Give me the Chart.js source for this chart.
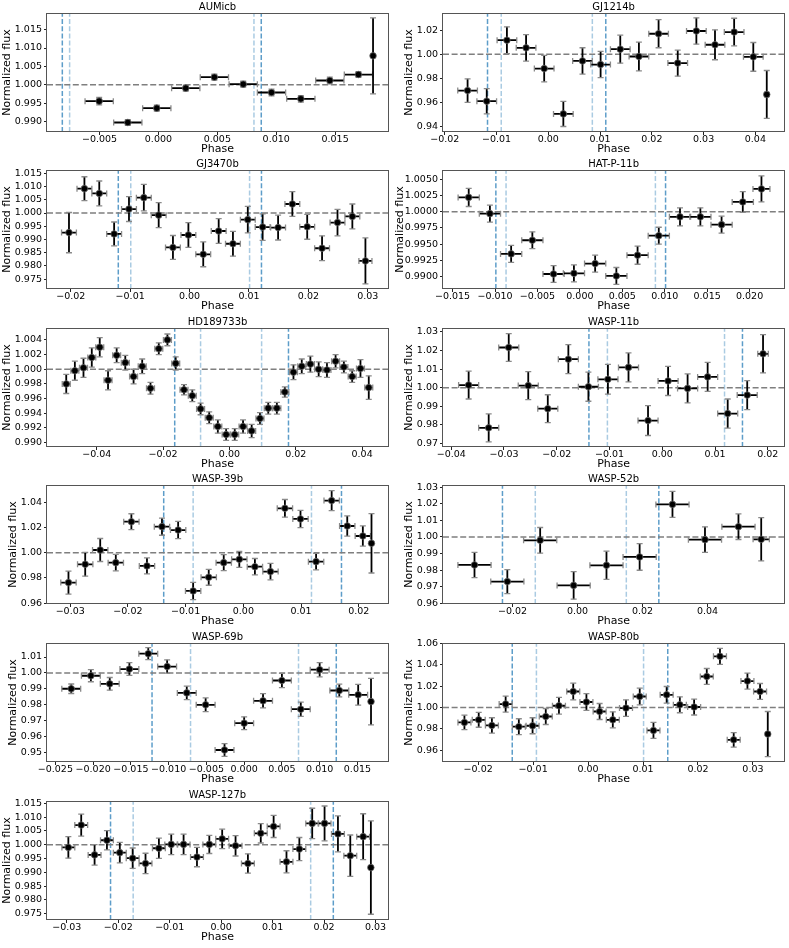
<!DOCTYPE html>
<html><head><meta charset="utf-8">
<script src="https://cdn.jsdelivr.net/npm/chart.js@4.4.0/dist/chart.umd.min.js"></script>
<style>
html,body{margin:0;padding:0;background:#fff;width:789px;height:948px;overflow:hidden;position:relative;}
canvas{position:absolute;}
</style></head><body>
<script>
// ---------------- DATA ----------------
const AUMicb_phase = [-0.00503,-0.00260,-0.00014,0.00232,0.00475,0.00720,0.00960,0.01209,0.01455,0.01698,0.01822];
const AUMicb_flux  = [0.99557,0.98978,0.99367,0.99910,1.00208,1.00018,0.99792,0.99620,1.00118,1.00280,1.00787];
const AUMicb_xerr  = [0.0012,0.0012,0.0012,0.0012,0.0012,0.0012,0.0012,0.0012,0.0012,0.0012,0];
const AUMicb_yerr  = [0.0010,0.0008,0.0008,0.0008,0.0008,0.0008,0.0009,0.0009,0.0009,0.0008,0.0103];
const AUMicb_contacts = [-0.00816,-0.00754,0.00811,0.00873];
const AUMicb_xrange = [-0.00946,0.01949];
const AUMicb_yrange = [0.9872,1.0195];
const AUMicb_xticks = ['−0.005','0.000','0.005','0.010','0.015'];
const AUMicb_yticks = ['0.990','0.995','1.000','1.005','1.010','1.015'];

const GJ1214b_phase = [-0.0156,-0.0119,-0.0080,-0.0043,-0.0008,0.0029,0.0066,0.0101,0.0139,0.0175,0.0213,0.0250,0.0286,0.0322,0.0359,0.0396,0.0422];
const GJ1214b_flux  = [0.9697,0.9608,1.0117,1.0053,0.9880,0.9502,0.9944,0.9914,1.0042,0.9981,1.0171,0.9926,1.0194,1.0079,1.0185,0.9978,0.9664];
const GJ1214b_xerr  = [0.0019,0.0019,0.0019,0.0019,0.0019,0.0019,0.0019,0.0019,0.0019,0.0019,0.0019,0.0019,0.0019,0.0019,0.0019,0.0019,0.0004];
const GJ1214b_yerr  = [0.0098,0.0105,0.0112,0.0110,0.0110,0.0105,0.0110,0.0110,0.0117,0.0120,0.0117,0.0109,0.0110,0.0125,0.0115,0.0120,0.0200];
const GJ1214b_contacts = [-0.01175,-0.0091,0.0085,0.0111];
const GJ1214b_xrange = [-0.02035,0.04557];
const GJ1214b_yrange = [0.9351,1.0344];
const GJ1214b_xticks = ['−0.02','−0.01','0.00','0.01','0.02','0.03','0.04'];
const GJ1214b_yticks = ['0.94','0.96','0.98','1.00','1.02'];

const GJ3470b_phase = [-0.0203,-0.0177,-0.0152,-0.0127,-0.0102,-0.0077,-0.0052,-0.0028,-0.0002,0.0023,0.0049,0.0073,0.0098,0.0123,0.0149,0.0173,0.0198,0.0223,0.0249,0.0274,0.0296];
const GJ3470b_flux  = [0.9926,1.0092,1.0074,0.9921,1.0015,1.0058,0.9992,0.9870,0.9917,0.9844,0.9932,0.9884,0.9975,0.9947,0.9945,1.0034,0.9948,0.9867,0.9964,0.9987,0.9819];
const GJ3470b_xerr  = [0.00125,0.00125,0.00125,0.00125,0.00125,0.00125,0.00125,0.00125,0.00125,0.00125,0.00125,0.00125,0.00125,0.00125,0.00125,0.00125,0.00125,0.00125,0.00125,0.00125,0.0011];
const GJ3470b_yerr  = [0.0076,0.0045,0.0047,0.0045,0.0047,0.0050,0.0047,0.0045,0.0047,0.0047,0.0047,0.0047,0.0050,0.0050,0.0047,0.0047,0.0047,0.0047,0.0050,0.0047,0.0087];
const GJ3470b_contacts = [-0.0120,-0.0099,0.0101,0.0121];
const GJ3470b_xrange = [-0.0240,0.0334];
const GJ3470b_yrange = [0.9713,1.01625];
const GJ3470b_xticks = ['−0.02','−0.01','0.00','0.01','0.02','0.03'];
const GJ3470b_yticks = ['0.975','0.980','0.985','0.990','0.995','1.000','1.005','1.010','1.015'];

const HATP11b_phase = [-0.0131,-0.0106,-0.0081,-0.0056,-0.0031,-0.0007,0.0018,0.0043,0.0068,0.0093,0.0118,0.0142,0.0167,0.0192,0.0214];
const HATP11b_flux  = [1.0022,0.9997,0.9935,0.9956,0.9904,0.9905,0.9920,0.9901,0.9933,0.9963,0.9992,0.9992,0.9980,1.0015,1.0035];
const HATP11b_xerr  = [0.00125,0.00125,0.00125,0.00125,0.00125,0.00125,0.00125,0.00125,0.00125,0.00125,0.00125,0.00125,0.00125,0.00125,0.0010];
const HATP11b_yerr  = [0.0014,0.0013,0.0013,0.0013,0.0013,0.0013,0.0013,0.0013,0.0014,0.0013,0.0014,0.0014,0.0013,0.0016,0.0020];
const HATP11b_contacts = [-0.0099,-0.0087,0.0089,0.0101];
const HATP11b_xrange = [-0.01613,0.02408];
const HATP11b_yrange = [0.98809,1.00642];
const HATP11b_xticks = ['−0.015','−0.010','−0.005','0.000','0.005','0.010','0.015','0.020'];
const HATP11b_yticks = ['0.9900','0.9925','0.9950','0.9975','1.0000','1.0025','1.0050'];

const HD189733b_phase = [-0.0492,-0.0466,-0.0440,-0.0415,-0.0391,-0.0366,-0.0340,-0.0314,-0.0289,-0.0263,-0.0238,-0.0213,-0.0187,-0.0162,-0.0137,-0.0112,-0.0087,-0.0061,-0.0035,-0.0010,0.0016,0.0041,0.0067,0.0092,0.0117,0.0143,0.0167,0.0193,0.0218,0.0244,0.0269,0.0294,0.0320,0.0345,0.0370,0.0395,0.0420];
const HD189733b_flux  = [0.9980,0.9998,1.0002,1.0016,1.0030,0.9985,1.0019,1.0009,0.9990,1.0004,0.9974,1.0028,1.0040,1.0008,0.9972,0.9964,0.9946,0.9934,0.9922,0.9911,0.9911,0.9922,0.9916,0.9933,0.9947,0.9947,0.9969,0.9996,1.0004,1.0007,1.0000,0.9999,1.0011,1.0003,0.9990,1.0001,0.9975];
const HD189733b_xerr  = [0.0012,0.0012,0.0012,0.0012,0.0012,0.0012,0.0012,0.0012,0.0012,0.0012,0.0012,0.0012,0.0012,0.0012,0.0012,0.0012,0.0012,0.0012,0.0012,0.0012,0.0012,0.0012,0.0012,0.0012,0.0012,0.0012,0.0012,0.0012,0.0012,0.0012,0.0012,0.0012,0.0012,0.0012,0.0012,0.0012,0.0012];
const HD189733b_yerr  = [0.0013,0.0013,0.0013,0.0013,0.0013,0.0013,0.0010,0.0010,0.0010,0.0010,0.0008,0.0008,0.0008,0.0009,0.0007,0.0008,0.0008,0.0008,0.0009,0.0008,0.0008,0.0009,0.0009,0.0008,0.0008,0.0008,0.0007,0.0010,0.0010,0.0011,0.0010,0.0010,0.0009,0.0008,0.0008,0.0012,0.0016];
const HD189733b_contacts = [-0.0165,-0.0087,0.0097,0.0178];
const HD189733b_xrange = [-0.0550,0.0478];
const HD189733b_yrange = [0.98941,1.00562];
const HD189733b_xticks = ['−0.04','−0.02','0.00','0.02','0.04'];
const HD189733b_yticks = ['0.990','0.992','0.994','0.996','0.998','1.000','1.002','1.004'];

const WASP11b_phase = [-0.0367,-0.0329,-0.0291,-0.0254,-0.0217,-0.0178,-0.0140,-0.0103,-0.0064,-0.0027,0.0011,0.0048,0.0086,0.0124,0.0161,0.0191];
const WASP11b_flux  = [1.0014,0.9784,1.0216,1.0011,0.9887,1.0153,1.0005,1.0045,1.0109,0.9823,1.0036,0.9996,1.0058,0.9861,0.9960,1.0182];
const WASP11b_xerr  = [0.0019,0.0019,0.0019,0.0019,0.0019,0.0019,0.0019,0.0019,0.0019,0.0019,0.0019,0.0019,0.0019,0.0019,0.0019,0.0010];
const WASP11b_yerr  = [0.0075,0.0075,0.0075,0.0075,0.0075,0.0078,0.0078,0.0080,0.0078,0.0080,0.0078,0.0078,0.0078,0.0078,0.0078,0.0103];
const WASP11b_contacts = [-0.0139,-0.0104,0.0118,0.0152];
const WASP11b_xrange = [-0.04156,0.02311];
const WASP11b_yrange = [0.96811,1.03207];
const WASP11b_xticks = ['−0.04','−0.03','−0.02','−0.01','0.00','0.01','0.02'];
const WASP11b_yticks = ['0.97','0.98','0.99','1.00','1.01','1.02','1.03'];

const WASP39b_phase = [-0.0303,-0.0274,-0.0248,-0.0221,-0.0194,-0.0167,-0.0141,-0.0113,-0.0087,-0.0060,-0.0034,-0.0007,0.0020,0.0047,0.0072,0.0099,0.0126,0.0153,0.0180,0.0207,0.0222];
const WASP39b_flux  = [0.9763,0.9908,1.0021,0.9921,1.0245,0.9895,1.0206,1.0179,0.9697,0.9805,0.9921,0.9947,0.9889,0.9850,1.0351,1.0267,0.9929,1.0412,1.0211,1.0132,1.0074];
const WASP39b_xerr  = [0.00133,0.00133,0.00133,0.00133,0.00133,0.00133,0.00133,0.00133,0.00133,0.00133,0.00133,0.00133,0.00133,0.00133,0.00133,0.00133,0.00133,0.00133,0.00133,0.00133,0];
const WASP39b_yerr  = [0.0091,0.0094,0.0091,0.0065,0.0063,0.0063,0.0068,0.0068,0.0068,0.0063,0.0063,0.0063,0.0065,0.0065,0.0070,0.0068,0.0065,0.0079,0.0080,0.0080,0.0235];
const WASP39b_contacts = [-0.0138,-0.0087,0.0118,0.0170];
const WASP39b_xrange = [-0.03402,0.02506];
const WASP39b_yrange = [0.95937,1.05356];
const WASP39b_xticks = ['−0.03','−0.02','−0.01','0.00','0.01','0.02'];
const WASP39b_yticks = ['0.96','0.98','1.00','1.02','1.04'];

const WASP52b_phase = [-0.0317,-0.0216,-0.0115,-0.0012,0.0089,0.0191,0.0292,0.0392,0.0495,0.0565];
const WASP52b_flux  = [0.9832,0.9732,0.9980,0.9709,0.9830,0.9880,1.0196,0.9984,1.0062,0.9986];
const WASP52b_xerr  = [0.0051,0.0051,0.0051,0.0051,0.0051,0.0051,0.0051,0.0051,0.0051,0.0025];
const WASP52b_yerr  = [0.0076,0.0072,0.0077,0.0083,0.0085,0.0080,0.0078,0.0077,0.0077,0.0130];
const WASP52b_contacts = [-0.0231,-0.0130,0.0150,0.0250];
const WASP52b_xrange = [-0.04139,0.06357];
const WASP52b_yrange = [0.95972,1.03126];
const WASP52b_xticks = ['−0.02','0.00','0.02','0.04'];
const WASP52b_yticks = ['0.96','0.97','0.98','0.99','1.00','1.01','1.02','1.03'];

const WASP69b_phase = [-0.0229,-0.0203,-0.0178,-0.0152,-0.0127,-0.0102,-0.0076,-0.0051,-0.0026,0.0000,0.0025,0.0050,0.0075,0.0100,0.0126,0.0151,0.0168];
const WASP69b_flux  = [0.9900,0.9982,0.9931,1.0024,1.0121,1.0040,0.9874,0.9799,0.9514,0.9683,0.9824,0.9952,0.9771,1.0020,0.9889,0.9862,0.9819];
const WASP69b_xerr  = [0.00125,0.00125,0.00125,0.00125,0.00125,0.00125,0.00125,0.00125,0.00125,0.00125,0.00125,0.00125,0.00125,0.00125,0.00125,0.00125,0];
const WASP69b_yerr  = [0.0030,0.0038,0.0040,0.0040,0.0038,0.0042,0.0042,0.0043,0.0040,0.0040,0.0045,0.0045,0.0045,0.0045,0.0040,0.0065,0.0147];
const WASP69b_contacts = [-0.0122,-0.0071,0.0072,0.0122];
const WASP69b_xrange = [-0.02611,0.01905];
const WASP69b_yrange = [0.94384,1.01883];
const WASP69b_xticks = ['−0.025','−0.020','−0.015','−0.010','−0.005','0.000','0.005','0.010','0.015'];
const WASP69b_yticks = ['0.95','0.96','0.97','0.98','0.99','1.00','1.01'];

const WASP80b_phase = [-0.0225,-0.0199,-0.0175,-0.0150,-0.0126,-0.0101,-0.0077,-0.0053,-0.0027,-0.0003,0.0021,0.0045,0.0069,0.0094,0.0119,0.0143,0.0167,0.0193,0.0216,0.0240,0.0265,0.0290,0.0313,0.0327];
const WASP80b_flux  = [0.9860,0.9885,0.9832,1.0033,0.9820,0.9829,0.9916,1.0017,1.0151,1.0052,0.9963,0.9885,0.9995,1.0104,0.9785,1.0120,1.0026,1.0005,1.0292,1.0481,0.9697,1.0249,1.0151,0.9751];
const WASP80b_xerr  = [0.00118,0.00118,0.00118,0.00118,0.00118,0.00118,0.00118,0.00118,0.00118,0.00118,0.00118,0.00118,0.00118,0.00118,0.00118,0.00118,0.00118,0.00118,0.00118,0.00118,0.00118,0.00118,0.00118,0];
const WASP80b_yerr  = [0.0068,0.0070,0.0072,0.0075,0.0075,0.0075,0.0075,0.0078,0.0078,0.0078,0.0075,0.0075,0.0078,0.0078,0.0075,0.0078,0.0075,0.0075,0.0075,0.0075,0.0068,0.0075,0.0075,0.0212];
const WASP80b_contacts = [-0.0138,-0.0094,0.0101,0.0145];
const WASP80b_xrange = [-0.0264,0.03569];
const WASP80b_yrange = [0.94885,1.06065];
const WASP80b_xticks = ['−0.02','−0.01','0.00','0.01','0.02','0.03'];
const WASP80b_yticks = ['0.96','0.98','1.00','1.02','1.04','1.06'];

const WASP127b_phase = [-0.0297,-0.0272,-0.0246,-0.0222,-0.0197,-0.0172,-0.0147,-0.0121,-0.0097,-0.0073,-0.0047,-0.0023,0.0002,0.0028,0.0052,0.0077,0.0102,0.0127,0.0152,0.0177,0.0201,0.0227,0.0251,0.0276,0.0291];
const WASP127b_flux  = [0.9990,1.0071,0.9963,1.0016,0.9971,0.9951,0.9932,0.9987,1.0001,1.0001,0.9955,1.0001,1.0021,0.9996,0.9932,1.0041,1.0066,0.9938,0.9984,1.0077,1.0077,1.0039,0.9960,1.0029,0.9917];
const WASP127b_xerr  = [0.00125,0.00125,0.00125,0.00125,0.00125,0.00125,0.00125,0.00125,0.00125,0.00125,0.00125,0.00125,0.00125,0.00125,0.00125,0.00125,0.00125,0.00125,0.00125,0.00125,0.00125,0.00125,0.00125,0.00125,0];
const WASP127b_yerr  = [0.0039,0.0040,0.0037,0.0035,0.0037,0.0037,0.0037,0.0037,0.0037,0.0037,0.0035,0.0033,0.0035,0.0037,0.0035,0.0035,0.0040,0.0040,0.0042,0.0055,0.0063,0.0065,0.0075,0.0083,0.0169];
const WASP127b_contacts = [-0.0215,-0.0171,0.0174,0.0218];
const WASP127b_xrange = [-0.03385,0.03243];
const WASP127b_yrange = [0.97271,1.01582];
const WASP127b_xticks = ['−0.03','−0.02','−0.01','0.00','0.01','0.02','0.03'];
const WASP127b_yticks = ['0.975','0.980','0.985','0.990','0.995','1.000','1.005','1.010','1.015'];

const panels = [
  {title:'AUMicb',   phase:AUMicb_phase,   flux:AUMicb_flux,   xerr:AUMicb_xerr,   yerr:AUMicb_yerr,   lines:AUMicb_contacts,   xr:AUMicb_xrange,   yr:AUMicb_yrange,   xt:AUMicb_xticks,   yt:AUMicb_yticks},
  {title:'GJ1214b',  phase:GJ1214b_phase,  flux:GJ1214b_flux,  xerr:GJ1214b_xerr,  yerr:GJ1214b_yerr,  lines:GJ1214b_contacts,  xr:GJ1214b_xrange,  yr:GJ1214b_yrange,  xt:GJ1214b_xticks,  yt:GJ1214b_yticks},
  {title:'GJ3470b',  phase:GJ3470b_phase,  flux:GJ3470b_flux,  xerr:GJ3470b_xerr,  yerr:GJ3470b_yerr,  lines:GJ3470b_contacts,  xr:GJ3470b_xrange,  yr:GJ3470b_yrange,  xt:GJ3470b_xticks,  yt:GJ3470b_yticks},
  {title:'HAT-P-11b',phase:HATP11b_phase,  flux:HATP11b_flux,  xerr:HATP11b_xerr,  yerr:HATP11b_yerr,  lines:HATP11b_contacts,  xr:HATP11b_xrange,  yr:HATP11b_yrange,  xt:HATP11b_xticks,  yt:HATP11b_yticks},
  {title:'HD189733b',phase:HD189733b_phase,flux:HD189733b_flux,xerr:HD189733b_xerr,yerr:HD189733b_yerr,lines:HD189733b_contacts,xr:HD189733b_xrange,yr:HD189733b_yrange,xt:HD189733b_xticks,yt:HD189733b_yticks},
  {title:'WASP-11b', phase:WASP11b_phase,  flux:WASP11b_flux,  xerr:WASP11b_xerr,  yerr:WASP11b_yerr,  lines:WASP11b_contacts,  xr:WASP11b_xrange,  yr:WASP11b_yrange,  xt:WASP11b_xticks,  yt:WASP11b_yticks},
  {title:'WASP-39b', phase:WASP39b_phase,  flux:WASP39b_flux,  xerr:WASP39b_xerr,  yerr:WASP39b_yerr,  lines:WASP39b_contacts,  xr:WASP39b_xrange,  yr:WASP39b_yrange,  xt:WASP39b_xticks,  yt:WASP39b_yticks},
  {title:'WASP-52b', phase:WASP52b_phase,  flux:WASP52b_flux,  xerr:WASP52b_xerr,  yerr:WASP52b_yerr,  lines:WASP52b_contacts,  xr:WASP52b_xrange,  yr:WASP52b_yrange,  xt:WASP52b_xticks,  yt:WASP52b_yticks},
  {title:'WASP-69b', phase:WASP69b_phase,  flux:WASP69b_flux,  xerr:WASP69b_xerr,  yerr:WASP69b_yerr,  lines:WASP69b_contacts,  xr:WASP69b_xrange,  yr:WASP69b_yrange,  xt:WASP69b_xticks,  yt:WASP69b_yticks},
  {title:'WASP-80b', phase:WASP80b_phase,  flux:WASP80b_flux,  xerr:WASP80b_xerr,  yerr:WASP80b_yerr,  lines:WASP80b_contacts,  xr:WASP80b_xrange,  yr:WASP80b_yrange,  xt:WASP80b_xticks,  yt:WASP80b_yticks},
  {title:'WASP-127b',phase:WASP127b_phase, flux:WASP127b_flux, xerr:WASP127b_xerr, yerr:WASP127b_yerr, lines:WASP127b_contacts, xr:WASP127b_xrange, yr:WASP127b_yrange, xt:WASP127b_xticks, yt:WASP127b_yticks}
];

// ---------------- LAYOUT / STYLE ----------------
const FONT = "'DejaVu Sans', sans-serif";
Chart.defaults.font.family = FONT;
Chart.defaults.color = '#000';
const ROW_TOP = [13,170,328,485,643,801];
const PLOT_H = 119, TOP_SPACE = 13, CANVAS_H = 158;
const COL_X = [0,394], COL_W = [394,395], PLOT_L = [47,443], PLOT_R = [388,786];
const TICK_FONT = {family:FONT, size:9.5, lineHeight:1};
const DARK = 'rgba(31,119,180,0.72)', LIGHT = 'rgba(31,119,180,0.38)';
const toNum = s => parseFloat(s.replace('−','-'));
const mctx = document.createElement('canvas').getContext('2d');
mctx.font = "9.5px 'DejaVu Sans'";

function decor(p){
  return {
    id:'decor',
    beforeDatasetsDraw(chart){
      const {ctx, chartArea:a, scales:{x,y}} = chart;
      ctx.save();
      ctx.beginPath(); ctx.rect(a.left,a.top,a.right-a.left,a.bottom-a.top); ctx.clip();
      ctx.lineWidth = 1.5;
      ctx.setLineDash([5,2.2]);
      p.lines.forEach((v,k)=>{
        const px = x.getPixelForValue(v);
        ctx.strokeStyle = (k===0||k===3) ? DARK : LIGHT;
        ctx.beginPath(); ctx.moveTo(px,a.bottom); ctx.lineTo(px,a.top); ctx.stroke();
      });
      ctx.strokeStyle = '#7f7f7f';
      ctx.setLineDash([6,2.6]);
      const py = y.getPixelForValue(1);
      ctx.beginPath(); ctx.moveTo(a.left,py); ctx.lineTo(a.right,py); ctx.stroke();
      ctx.setLineDash([]);
      for (let k=0;k<p.phase.length;k++){
        const cx = x.getPixelForValue(p.phase[k]), cy = y.getPixelForValue(p.flux[k]);
        const x0 = x.getPixelForValue(p.phase[k]-p.xerr[k]), x1 = x.getPixelForValue(p.phase[k]+p.xerr[k]);
        const y0 = y.getPixelForValue(p.flux[k]-p.yerr[k]), y1 = y.getPixelForValue(p.flux[k]+p.yerr[k]);
        ctx.strokeStyle = '#000'; ctx.lineWidth = 1.8;
        ctx.beginPath();
        if (p.xerr[k]>0){ ctx.moveTo(x0,cy); ctx.lineTo(x1,cy); }
        ctx.moveTo(cx,y0); ctx.lineTo(cx,y1);
        ctx.stroke();
        ctx.strokeStyle = '#8a8a8a'; ctx.lineWidth = 1.3;
        ctx.beginPath();
        if (p.xerr[k]>0){ ctx.moveTo(x0,cy-3); ctx.lineTo(x0,cy+3); ctx.moveTo(x1,cy-3); ctx.lineTo(x1,cy+3); }
        ctx.moveTo(cx-3,y0); ctx.lineTo(cx+3,y0); ctx.moveTo(cx-3,y1); ctx.lineTo(cx+3,y1);
        ctx.stroke();
      }
      ctx.restore();
    },
    afterDraw(chart){
      const {ctx, chartArea:a} = chart;
      ctx.save();
      ctx.strokeStyle = '#555'; ctx.lineWidth = 1;
      ctx.strokeRect(Math.round(a.left)-0.5, Math.round(a.top)+0.5, Math.round(a.right-a.left)+1, Math.round(a.bottom-a.top)-1);
      ctx.restore();
    }
  };
}

panels.forEach((p,i)=>{
  const col = i%2, row = Math.floor(i/2);
  const W = COL_W[col];
  const cv = document.createElement('canvas');
  cv.width = W; cv.height = CANVAS_H;
  cv.style.left = COL_X[col]+'px';
  cv.style.top = (ROW_TOP[row]-TOP_SPACE)+'px';
  cv.style.width = W+'px'; cv.style.height = CANVAS_H+'px';
  document.body.appendChild(cv);
  const yW = PLOT_L[col]-COL_X[col];
  const padR = W-(PLOT_R[col]-COL_X[col]);
  const xH = CANVAS_H-TOP_SPACE-PLOT_H;
  const maxW = Math.max(...p.yt.map(s=>mctx.measureText(s).width));
  const labelsLeft = yW-5-maxW;
  const yTitleCenter = Math.max(6.6, labelsLeft-7.5);
  const xVals = p.xt.map(toNum), yVals = p.yt.map(toNum);
  new Chart(cv, {
    type:'scatter',
    data:{datasets:[{
      data:p.phase.map((v,k)=>({x:v,y:p.flux[k]})),
      pointRadius:3.3, pointBackgroundColor:'#000', pointBorderColor:'rgba(110,110,110,0.9)', pointBorderWidth:0.8,
      showLine:false
    }]},
    options:{
      responsive:false, animation:false, events:[],
      layout:{padding:{left:0,top:0,right:padR,bottom:0}},
      plugins:{
        legend:{display:false}, tooltip:{enabled:false},
        title:{display:true, text:p.title, fullSize:false, font:{size:10,weight:'normal'}, color:'#000', padding:{top:1,bottom:0}}
      },
      scales:{
        x:{type:'linear', min:p.xr[0], max:p.xr[1],
           afterBuildTicks:s=>{ s.ticks = xVals.map(v=>({value:v})); },
           afterFit:s=>{ s.height = xH; },
           ticks:{callback:(v,k)=>p.xt[k], font:TICK_FONT, color:'#000', padding:0, autoSkip:false, maxRotation:0, minRotation:0},
           grid:{drawOnChartArea:false, drawTicks:true, tickLength:3, color:'#222'},
           border:{display:false},
           title:{display:true, text:'Phase', font:{size:11}, color:'#000', padding:{top:0,bottom:2}}},
        y:{type:'linear', min:p.yr[0], max:p.yr[1],
           afterBuildTicks:s=>{ s.ticks = yVals.map(v=>({value:v})); },
           afterFit:s=>{ s.width = yW; },
           ticks:{callback:(v,k)=>p.yt[k], font:TICK_FONT, color:'#000', padding:2, autoSkip:false},
           grid:{drawOnChartArea:false, drawTicks:true, tickLength:3, color:'#222'},
           border:{display:false},
           title:{display:true, text:'Normalized flux', font:{size:11}, color:'#000', padding:{top:yTitleCenter-6.6,bottom:0}}}
      }
    },
    plugins:[decor(p)]
  });
});
</script>
</body></html>
